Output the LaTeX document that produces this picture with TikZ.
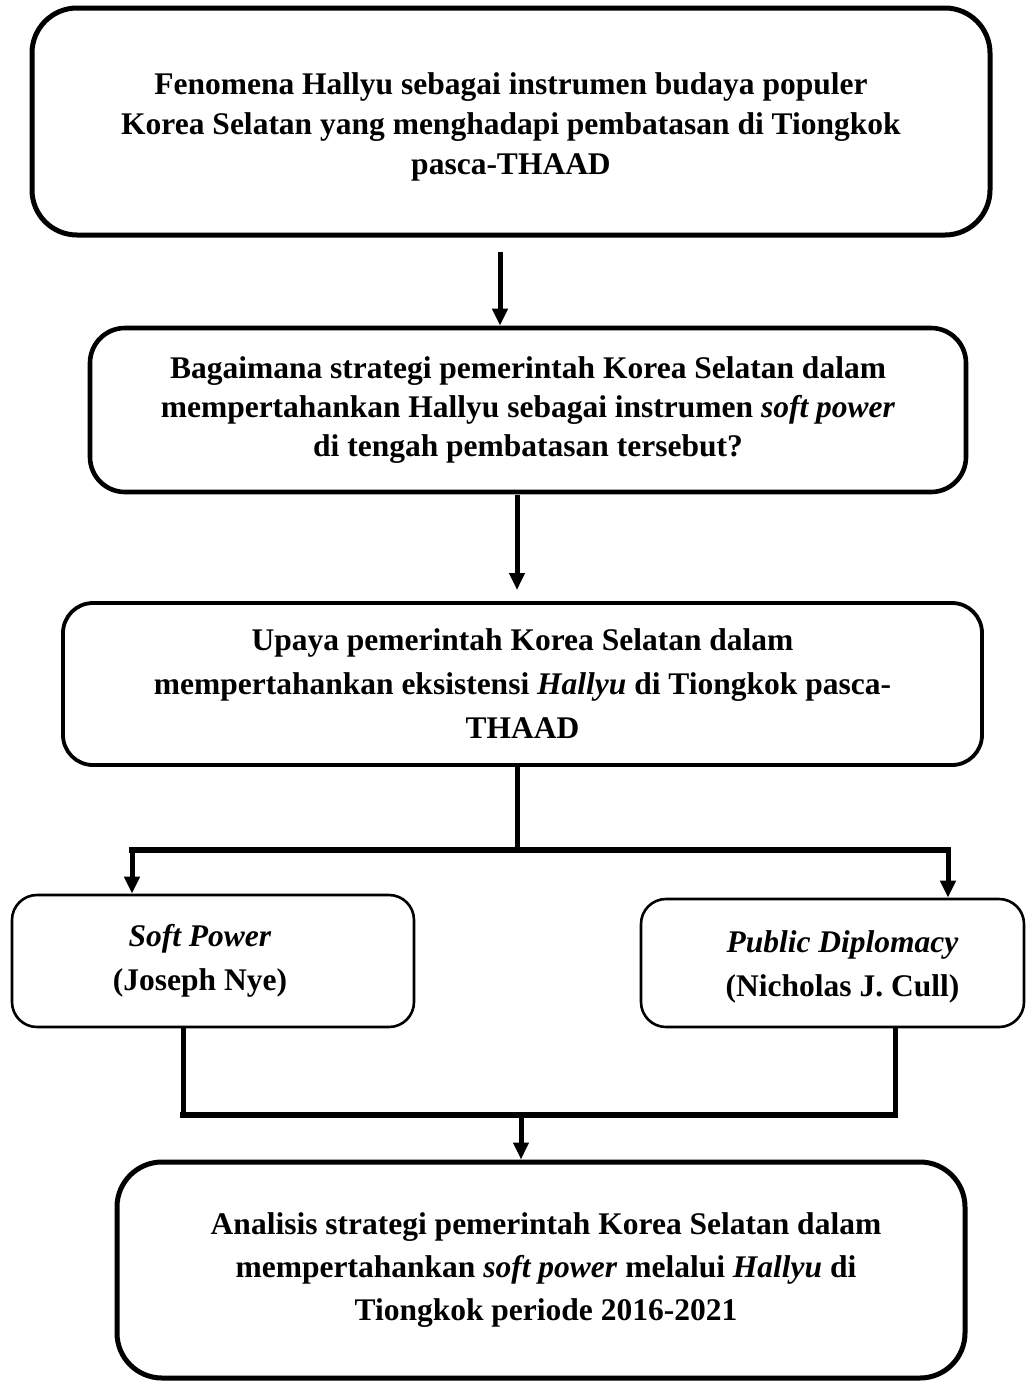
\documentclass[tikz,border=0pt]{standalone}
\usepackage{fontspec}
\setmainfont{Liberation Serif}
\usetikzlibrary{arrows.meta,calc}
\begin{document}
\begin{tikzpicture}[x=0.5pt,y=-0.5pt,
  box/.style={draw, align=center, inner sep=0pt, font=\bfseries\fontsize{15.75pt}{20pt}\selectfont},
  ln/.style={line width=2.5pt},
  barline/.style={line width=3.2pt, line cap=rect},
  arr/.style={line width=2.5pt, -{Triangle[length=8.5pt,width=7.5pt]}}]
\useasboundingbox (0,0) rectangle (1027,1382);

\node[box, rounded corners=22.5pt, line width=2.5pt, minimum width=479pt, minimum height=113.5pt] (b1) at (511,121.5)
  {\rule{0pt}{16.8pt}Fenomena Hallyu sebagai instrumen budaya populer\\Korea Selatan yang menghadapi pembatasan di Tiongkok\\pasca-THAAD};

\node[box, rounded corners=17.5pt, line width=2.3pt, minimum width=438pt, minimum height=82pt,
  font=\bfseries\fontsize{15.75pt}{19.5pt}\selectfont] (b2) at (528,410)
  {Bagaimana strategi pemerintah Korea Selatan dalam\\mempertahankan Hallyu sebagai instrumen \textit{soft power}\\di tengah pembatasan tersebut?};

\node[box, rounded corners=15pt, line width=1.9pt, minimum width=459.5pt, minimum height=81pt,
  font=\bfseries\fontsize{15.75pt}{22pt}\selectfont] (b3) at (522.5,684)
  {Upaya pemerintah Korea Selatan dalam\\mempertahankan eksistensi \textit{Hallyu} di Tiongkok pasca-\\THAAD};

\node[box, rounded corners=12.5pt, line width=1.3pt, minimum width=201pt, minimum height=66pt,
  font=\bfseries\fontsize{15.75pt}{22pt}\selectfont] (b4) at (213,961)
  {\textit{Soft Power}\hspace*{13pt}\\(Joseph Nye)\hspace*{13pt}};

\node[box, rounded corners=12.5pt, line width=1.3pt, minimum width=191.5pt, minimum height=64pt,
  font=\bfseries\fontsize{15.75pt}{22pt}\selectfont] (b5) at (832.5,963)
  {\rule{0pt}{15pt}\hspace*{10pt}\textit{Public Diplomacy}\\\hspace*{10pt}(Nicholas J. Cull)};

\node[box, rounded corners=22.5pt, line width=2.5pt, minimum width=424pt, minimum height=108pt,
  font=\bfseries\fontsize{15.75pt}{21.5pt}\selectfont] (b6) at (541,1270)
  {\hspace*{5pt}Analisis strategi pemerintah Korea Selatan dalam\\\hspace*{5pt}mempertahankan \textit{soft power} melalui \textit{Hallyu} di\\\hspace*{5pt}Tiongkok periode 2016-2021};

% b1 -> b2
\coordinate (a1s) at (500,252);
\draw[arr] (a1s) -- (a1s |- b2.north);

% b2 -> b3
\coordinate (a2s) at (517,495);
\coordinate (a2e) at (517,590);
\draw[arr] (a2s) -- (a2e);

% b3 -> branch
\coordinate (j1) at (517,850);
\coordinate (bl) at (132,850);
\coordinate (br) at (948,850);
\draw[ln] (b3.south -| j1) -- (j1);
\draw[barline] (bl) -- (br);
\draw[arr] (bl) -- (bl |- b4.north);
\draw[arr] (br) -- (br |- b5.north);

% merge -> b6
\coordinate (ml) at (183,1115);
\coordinate (mr) at (895,1115);
\coordinate (mj) at (521,1115);
\draw[ln] (b4.south -| ml) -- (ml);
\draw[ln] (b5.south -| mr) -- (mr);
\draw[barline] (ml) -- (mr);
\draw[arr] (mj) -- (mj |- b6.north);
\end{tikzpicture}
\end{document}
